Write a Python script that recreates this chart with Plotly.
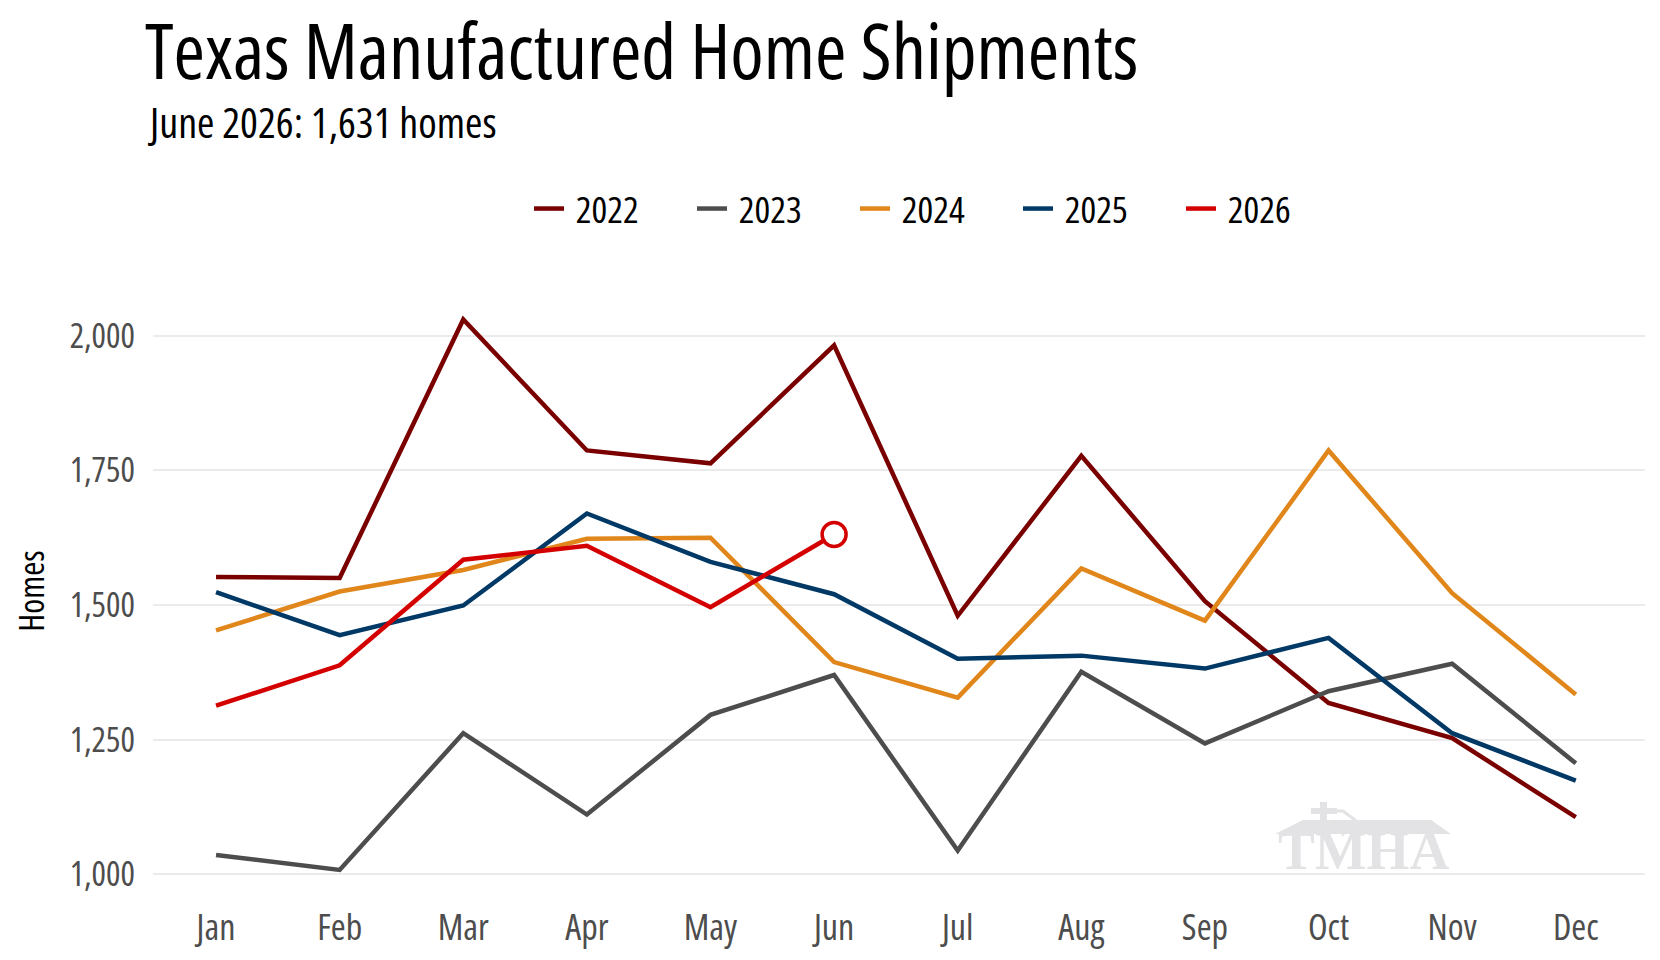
import plotly.graph_objs as go

months = ['Jan', 'Feb', 'Mar', 'Apr', 'May', 'Jun', 'Jul', 'Aug', 'Sep', 'Oct', 'Nov', 'Dec']

# monthly shipments
y2022 = [1552, 1550, 2030, 1787, 1763, 1982, 1480, 1777, 1507, 1318, 1253, 1106]
y2023 = [1036, 1008, 1262, 1111, 1296, 1370, 1044, 1376, 1243, 1340, 1391, 1206]
y2024 = [1453, 1525, 1565, 1623, 1625, 1394, 1328, 1568, 1471, 1787, 1522, 1334]
y2025 = [1524, 1444, 1499, 1670, 1580, 1520, 1400, 1406, 1382, 1439, 1262, 1174]
y2026 = [1313, 1388, 1584, 1610, 1496, 1631]

years = ['2022', '2023', '2024', '2025', '2026']
series = [y2022, y2023, y2024, y2025, y2026]
colors = ['#7a0000', '#4d4d4d', '#e0861a', '#003866', '#d40000']

yticks = [1000, 1250, 1500, 1750, 2000]

FONT = 'Open Sans'
WM = '#e3e3e5'  # watermark grey


def cond(s, w=400):
    # Open Sans is a variable font here, so this gives a narrow face
    return '<span style="font-stretch:condensed;font-weight:%d">%s</span>' % (w, s)


fig = go.Figure()
for name, vals, c in zip(years, series, colors):
    fig.add_trace(go.Scatter(x=months[:len(vals)], y=vals, mode='lines', name=cond('&nbsp;' + name, 500),
                             line=dict(color=c, width=4.5)))

# open circle on latest month
fig.add_trace(go.Scatter(x=[months[len(y2026) - 1]], y=[y2026[-1]], mode='markers', showlegend=False,
                         marker=dict(size=24, color='white', line=dict(color=colors[-1], width=3.5))))

L, R, T, B = 145, 23, 283, 77
PW, PH = 1660 - L - R, 960 - T - B


def px(x):
    return (x - L) / PW


def py(y):
    return (960 - B - y) / PH


fig.update_layout(
    width=1660, height=960,
    margin=dict(l=L, r=R, t=T, b=B),
    paper_bgcolor='white', plot_bgcolor='white',
    font=dict(family=FONT, color='black'),
    title=dict(text=cond('Texas Manufactured Home Shipments', 500), x=(L - 8) / 1660, xanchor='left',
               y=1 - 44 / 960, yanchor='middle', font=dict(size=76)),
    showlegend=True,
    legend=dict(orientation='h', x=px(521), xanchor='left', y=1 - 201 / 960, yref='container',
                yanchor='middle', font=dict(size=37), entrywidth=118, entrywidthmode='pixels',
                traceorder='normal'),
    annotations=[
        dict(text=cond('June 2026: 1,631 homes', 450), x=px(137), y=py(114), xref='paper',
             yref='paper', xanchor='left', yanchor='middle', showarrow=False, font=dict(size=42)),
        dict(text='<b>TMHA</b>', x=px(1355), y=py(842), xref='paper', yref='paper',
             xanchor='center', yanchor='middle', showarrow=False,
             font=dict(size=55, color=WM, family='Liberation Serif')),
    ],
    shapes=[
        # watermark: roof and cross
        dict(type='path', xref='paper', yref='paper', fillcolor=WM, line=dict(width=0), layer='below',
             path='M %f %f L %f %f L %f %f L %f %f Z' % (
                 px(1267), py(826), px(1295), py(812), px(1423), py(812), px(1443), py(826))),
        dict(type='rect', xref='paper', yref='paper', fillcolor=WM, line=dict(width=0), layer='below',
             x0=px(1312), x1=px(1319), y0=py(818), y1=py(794)),
        dict(type='rect', xref='paper', yref='paper', fillcolor=WM, line=dict(width=0), layer='below',
             x0=px(1303), x1=px(1329), y0=py(806), y1=py(800)),
        dict(type='path', xref='paper', yref='paper', fillcolor='rgba(0,0,0,0)', line=dict(width=3, color=WM),
             layer='below',
             path='M %f %f L %f %f L %f %f L %f %f L %f %f' % (
                 px(1321), py(803), px(1335), py(803), px(1347), py(812), px(1335), py(826),
                 px(1325), py(812))),
    ],
)

fig.update_xaxes(type='category', range=[-0.51, 11.56], showgrid=False, zeroline=False, showline=False,
                 ticks='', tickvals=months, ticktext=[cond(m) for m in months],
                 tickfont=dict(size=36, color='#4d4d4d'), ticklabelstandoff=12)
fig.update_yaxes(range=[969, 2083], tickvals=yticks, ticktext=[cond(f'{v:,}') for v in yticks],
                 showgrid=True, gridcolor='#ebebeb', gridwidth=2, zeroline=False, showline=False, ticks='',
                 ticklabelstandoff=17, tickfont=dict(size=34, color='#4d4d4d'),
                 title=dict(text=cond('Homes', 450), font=dict(size=34), standoff=14))

fig.write_html("out.html")
